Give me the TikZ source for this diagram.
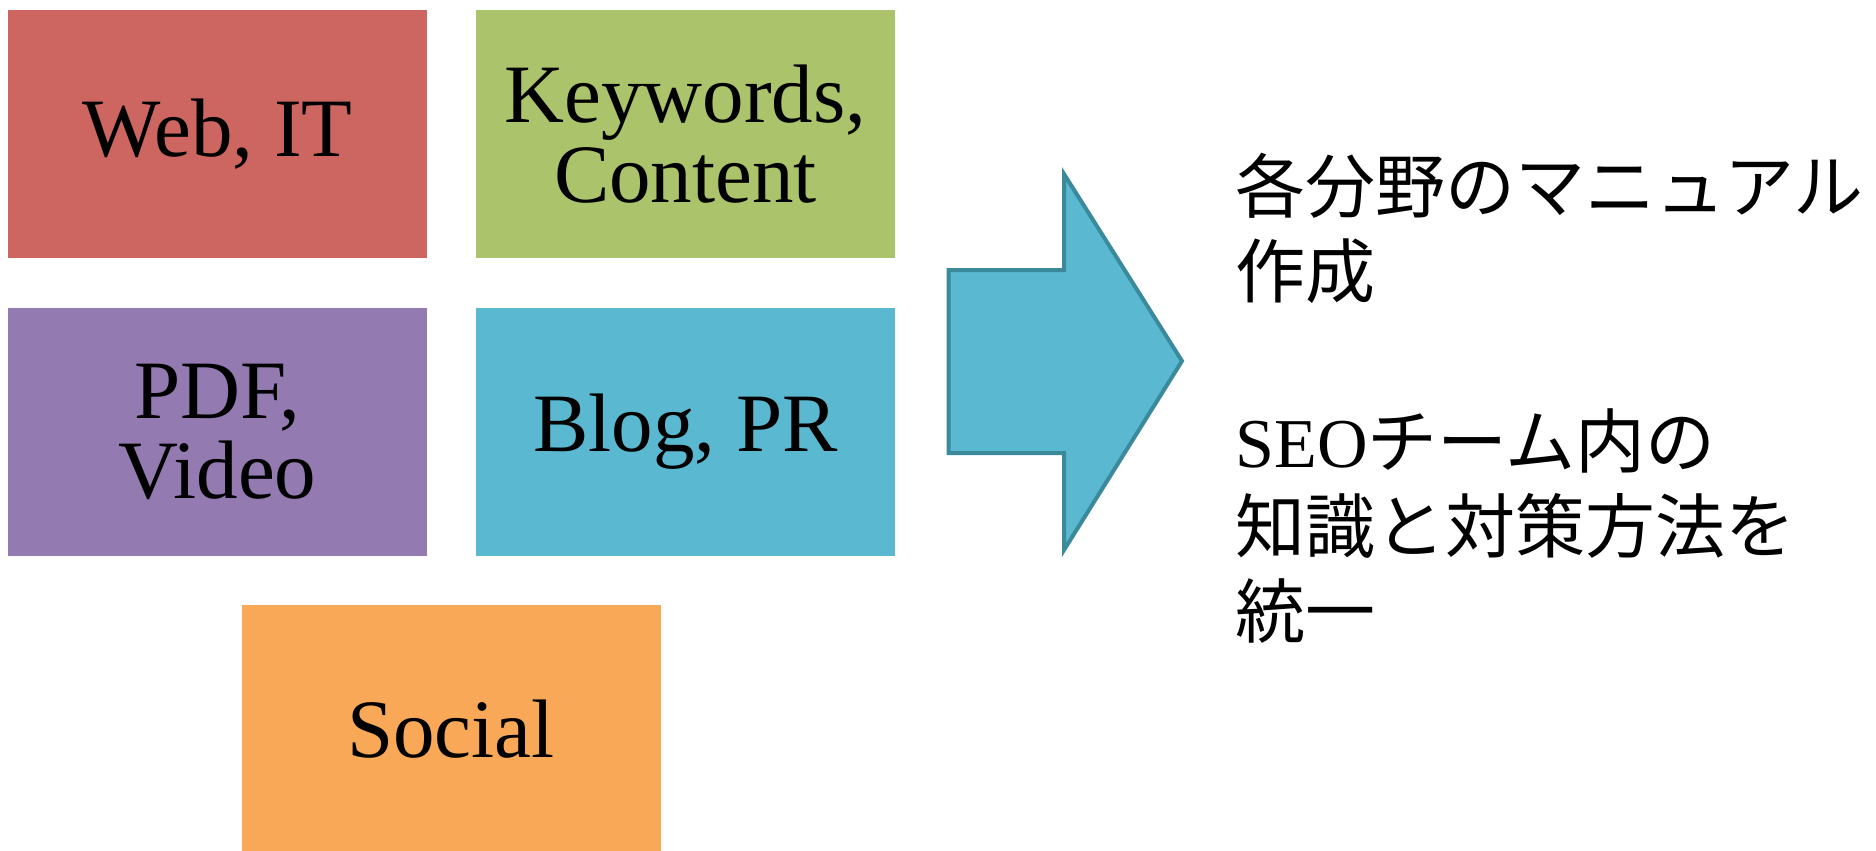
\documentclass[tikz,border=0pt]{standalone}
\usepackage{fontspec}
\setmainfont{Liberation Serif}
\newfontfamily\jpfont{Noto Sans CJK JP}
\definecolor{tilered}{HTML}{CD6660}
\definecolor{tilegreen}{HTML}{ABC46C}
\definecolor{tilepurple}{HTML}{937AB0}
\definecolor{tilecyan}{HTML}{5BB8D1}
\definecolor{tileorange}{HTML}{F9A857}
\definecolor{arrowedge}{HTML}{3A8A9C}
\tikzset{
	tile/.style={minimum width=209.5pt,minimum height=124pt,inner sep=0pt,align=center,font=\fontsize{41.5}{40}\selectfont},
	note/.style={anchor=base west,inner sep=0pt,font=\fontsize{35}{42}\selectfont}
}
\begin{document}
\begin{tikzpicture}[x=0.5pt,y=-0.5pt]
	\useasboundingbox (0,0) rectangle (1876,851);
	\node[tile,fill=tilered] (web) at (217.5,134) {Web, IT};
	\node[tile,fill=tilegreen] (keywords) at (685.5,134) {Keywords,\\Content};
	\node[tile,fill=tilepurple] (pdf) at (217.5,432) {PDF,\\Video};
	\node[tile,fill=tilecyan] (blog) at (685.5,432) {Blog, PR};
	\node[tile,fill=tileorange] (social) at (451,729) {Social};
	\draw[arrowedge,line width=2pt,fill=tilecyan] (948.5,270) -- (1064,270) -- (1064,174) -- (1182,361) -- (1064,550) -- (1064,453) -- (948.5,453) -- cycle;
	\node[note] (line1) at (1235,212) {\jpfont 各分野のマニュアル};
	\node[note] (line2) at (1235,297) {\jpfont 作成};
	\node[note] (line4) at (1235,467) {SEO\jpfont チーム内の};
	\node[note] (line5) at (1235,552) {\jpfont 知識と対策方法を};
	\node[note] (line6) at (1235,637) {\jpfont 統一};
\end{tikzpicture}
\end{document}
